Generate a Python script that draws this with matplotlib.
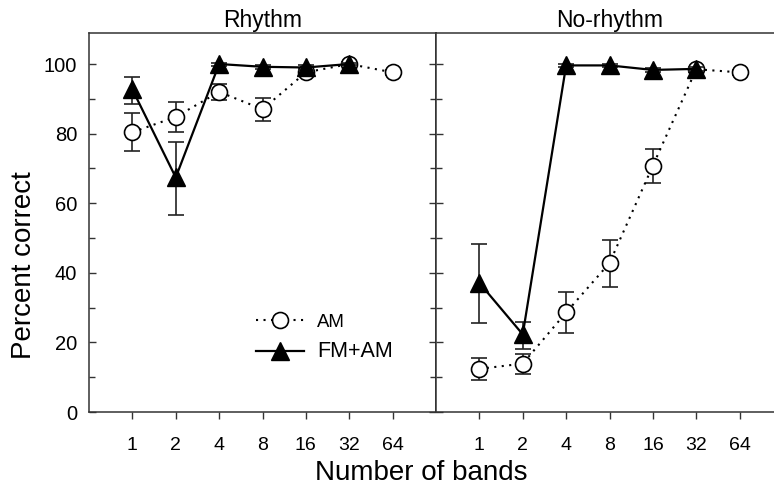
import matplotlib
matplotlib.use("Agg")
import matplotlib.pyplot as plt
from matplotlib.lines import Line2D
import numpy as np

plt.rcParams['font.family'] = ['Liberation Sans', 'DejaVu Sans']

bands = ['1', '2', '4', '8', '16', '32', '64']
panels = ['Rhythm', 'No-rhythm']

# Rhythm condition
rh_am = [80.4, 84.8, 92.0, 87.0, 97.6, 100.0, 97.6]
rh_am_lo = [74.9, 80.6, 89.8, 83.7, 96.6, 99.4, 96.8]
rh_am_hi = [86.0, 89.0, 94.4, 90.3, 98.6, 100.5, 98.4]
rh_fm = [92.7, 67.4, 100.0, 99.2, 99.0, 100.0]
rh_fm_lo = [88.6, 56.6, 99.5, 98.6, 98.4, 99.6]
rh_fm_hi = [96.3, 77.7, 100.4, 99.8, 99.6, 100.4]

# No-rhythm condition
nr_am = [12.4, 13.9, 28.6, 42.8, 70.8, 98.5, 97.6]
nr_am_lo = [9.2, 10.9, 22.8, 36.0, 65.9, 97.8, 96.8]
nr_am_hi = [15.4, 16.8, 34.4, 49.3, 75.7, 99.2, 98.4]
nr_fm = [37.1, 22.3, 99.6, 99.6, 98.3, 98.6]
nr_fm_lo = [25.5, 18.2, 99.1, 99.1, 97.7, 98.0]
nr_fm_hi = [48.2, 26.0, 100.1, 100.1, 98.9, 99.2]

W, H = 774, 487
fig = plt.figure(figsize=(W / 100, H / 100), dpi=100)

ax_w = 347 / W
ax_h = (412 - 32.7) / H
ax_b = (487 - 412) / H
axL = fig.add_axes([89 / W, ax_b, ax_w, ax_h])
axR = fig.add_axes([436 / W, ax_b, ax_w, ax_h])

spine_col = '#333333'
am_style = dict(color='black', linestyle=(0, (1, 2.6)), linewidth=1.5,
                marker='o', markersize=11.5, markerfacecolor='white',
                markeredgecolor='black', markeredgewidth=1.2,
                ecolor='#222222', elinewidth=1.2, capsize=6, capthick=1.2)
fm_style = dict(color='black', linestyle='-', linewidth=1.6,
                marker='^', markersize=12.5, markerfacecolor='black',
                markeredgecolor='black',
                ecolor='#222222', elinewidth=1.2, capsize=6, capthick=1.2)

data = [
    (rh_am, rh_am_lo, rh_am_hi, rh_fm, rh_fm_lo, rh_fm_hi),
    (nr_am, nr_am_lo, nr_am_hi, nr_fm, nr_fm_lo, nr_fm_hi),
]

for ax, title, (am, am_lo, am_hi, fm, fm_lo, fm_hi) in zip([axL, axR], panels, data):
    xa = np.arange(1, len(am) + 1)
    xf = np.arange(1, len(fm) + 1)
    am = np.array(am); fm = np.array(fm)
    ax.errorbar(xa, am, yerr=[am - np.array(am_lo), np.array(am_hi) - am],
                zorder=2, **am_style)
    ax.errorbar(xf, fm, yerr=[fm - np.array(fm_lo), np.array(fm_hi) - fm],
                zorder=3, **fm_style)
    ax.set_xlim(0, 8)
    ax.set_ylim(0, 109)
    ax.set_xticks(xa)
    ax.set_xticklabels(bands, fontsize=14)
    ax.set_yticks(np.arange(0, 101, 20))
    ax.set_yticks(np.arange(10, 101, 20), minor=True)
    ax.tick_params(axis='x', direction='out', length=5, width=1, color=spine_col, pad=13)
    ax.tick_params(axis='y', which='major', direction='in', length=5, width=1,
                   color=spine_col, left=True, right=True, labelsize=14.5, pad=8.5)
    ax.tick_params(axis='y', which='minor', direction='in', length=4.5, width=1,
                   color=spine_col, left=True, right=True)
    for s in ax.spines.values():
        s.set_color(spine_col)
        s.set_linewidth(1.1)
    ax.set_title(title, fontsize=16.5, pad=4)

axR.tick_params(axis='y', labelleft=False)
axR.spines['right'].set_visible(False)
axL.spines['right'].set_color('black')

fig.text(11 / W, 222 / H, 'Percent correct', rotation=90, fontsize=20,
         ha='left', va='center')
fig.text(421 / W, (487 - 480) / H, 'Number of bands', fontsize=20,
         ha='center', va='baseline')

h_am = Line2D([], [], color='black', linestyle=(0, (1, 2.6)), linewidth=1.5,
              marker='o', markersize=11.5, markerfacecolor='white',
              markeredgecolor='black', markeredgewidth=1.2)
h_fm = Line2D([], [], color='black', linestyle='-', linewidth=1.6,
              marker='^', markersize=12.5, markerfacecolor='black')
leg = axL.legend([h_am, h_fm], ['AM', 'FM+AM'], loc='center left',
                 bbox_to_anchor=(0.48, 0.195), frameon=False, fontsize=13.4,
                 handlelength=2.6, handletextpad=0.7, labelspacing=0.55,
                 borderpad=0, borderaxespad=0)
leg.get_texts()[1].set_fontsize(15.5)

fig.savefig('out.png', dpi=100)
